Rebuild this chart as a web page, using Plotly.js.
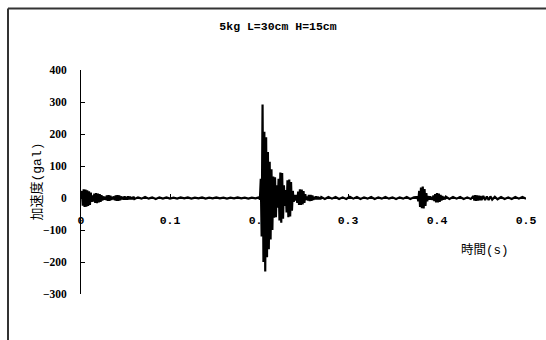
<!DOCTYPE html>
<html>
<head>
<meta charset="utf-8">
<script src="https://cdn.plot.ly/plotly-3.0.1.min.js"></script>
<style>html,body{margin:0;padding:0;background:#fff;}#chart{width:546px;height:340px;}</style>
</head>
<body>
<div id="chart"></div>
<script>
// Chart text
const chartTitle = "5kg L=30cm H=15cm";
const xTitle = "時間(s)";
const yTitle = "加速度(gal)";
const xTickVals = [0, 0.1, 0.2, 0.3, 0.4, 0.5];
const xTickText = ["0", "0.1", "0.2", "0.3", "0.4", "0.5"];
const yTickVals = [-300, -200, -100, 0, 100, 200, 300, 400];

// Time (s) and acceleration (gal)
const timeSec = [
0.000,0.001,0.002,0.003,0.004,0.005,0.006,0.007,0.008,0.009,0.010,0.011,0.012,0.013,0.014,0.015,0.016,0.017,0.018,0.019,
0.020,0.021,0.022,0.023,0.024,0.025,0.026,0.027,0.028,0.029,0.030,0.031,0.032,0.033,0.034,0.035,0.036,0.037,0.038,0.039,
0.040,0.041,0.042,0.043,0.044,0.045,0.046,0.047,0.048,0.049,0.050,0.051,0.052,0.053,0.054,0.055,0.056,0.057,0.058,0.059,0.060,
0.064,0.068,0.072,0.076,0.080,0.084,0.088,0.092,0.096,0.100,0.104,0.108,0.112,0.116,0.120,0.124,0.128,0.132,0.136,0.140,
0.144,0.148,0.152,0.156,0.160,0.164,0.168,0.172,0.176,0.180,0.184,0.188,0.192,0.196,
0.200,0.201,0.202,0.203,0.204,0.205,0.206,0.207,0.208,0.209,0.210,0.211,0.212,0.213,0.214,0.215,0.216,0.217,0.218,0.219,
0.220,0.221,0.222,0.223,0.224,0.225,0.226,0.227,0.228,0.229,0.230,0.231,0.232,0.233,0.234,0.235,0.236,0.237,0.238,0.239,
0.240,0.241,0.242,0.243,0.244,0.245,0.246,0.247,0.248,0.249,0.250,0.251,0.252,0.253,0.254,0.255,0.256,0.257,0.258,0.259,
0.260,0.261,0.262,0.263,0.264,0.265,0.266,0.267,0.268,0.269,0.270,
0.274,0.278,0.282,0.286,0.290,0.294,0.298,0.302,0.306,0.310,0.314,0.318,0.322,0.326,0.330,0.334,0.338,0.342,0.346,0.350,
0.354,0.358,0.362,0.366,0.370,0.374,
0.378,0.379,0.380,0.381,0.382,0.383,0.384,0.385,0.386,0.387,0.388,0.389,0.390,0.391,0.392,0.393,0.394,0.395,0.396,0.397,
0.398,0.399,0.400,0.401,0.402,0.403,0.404,0.405,0.406,0.407,0.408,0.409,0.410,
0.414,0.418,0.422,0.426,0.430,0.434,0.438,0.441,0.442,0.443,0.444,0.445,0.446,0.447,0.448,0.449,0.450,0.452,0.454,0.456,
0.458,0.460,0.462,0.465,0.468,0.472,0.476,0.480,0.484,0.488,0.492,0.496,0.500
];
const accelGal = [
0,22,-24,27,-28,26,-27,24,-25,21,-22,17,-12,8,-11,14,-15,15,-16,14,
-14,12,-12,9,-8,5,-5,4,-6,8,-9,9,-9,7,-6,4,-4,5,-7,8,
-9,9,-9,8,-7,5,-4,4,-5,5,-5,4,-5,5,-4,4,-4,3,-4,4,-3,
2,-2,3,-2,2,-3,2,-2,2,-2,1,-2,2,-1,2,-2,1,-1,2,-2,
1,-1,2,-1,1,-2,1,-1,2,-1,1,-2,1,-1,
2,-5,60,-120,292,-200,207,-230,190,-185,144,-160,113,-130,90,-100,67,-62,65,-60,
40,-30,60,-70,80,-77,78,-65,40,-25,25,-45,55,-60,58,-58,50,-40,22,-12,
10,-8,10,-15,20,-22,27,-22,26,-20,22,-15,12,-6,5,-8,10,-10,10,-9,
8,-6,4,-4,5,-4,4,-4,3,-4,3,
-3,3,-2,3,-3,2,-3,4,-2,3,-3,2,-2,3,-3,2,-2,3,-2,2,
-3,2,-2,3,-3,2,
3,-10,22,-28,33,-32,36,-33,28,-25,15,-10,6,-5,5,-5,4,-6,8,-10,
12,-14,15,-14,14,-12,10,-8,6,-5,4,-4,4,
-3,3,-2,3,-3,2,-3,6,-8,9,-9,8,-8,7,-7,6,-6,6,-6,5,
-6,5,-5,4,-4,3,-3,2,-3,3,-2,3,-2
];

const monoFont = 'Liberation Mono, "Noto Sans CJK JP", monospace';
const serifFont = 'Liberation Serif, "Noto Sans CJK JP", serif';

const trace = {
  x: timeSec,
  y: accelGal,
  type: 'scatter',
  mode: 'lines',
  line: {color: '#000000', width: 2.2},
  hoverinfo: 'skip'
};

const layout = {
  width: 546,
  height: 340,
  margin: {l: 81, r: 20, t: 70, b: 46},
  paper_bgcolor: '#ffffff',
  plot_bgcolor: '#ffffff',
  showlegend: false,
  title: {
    text: chartTitle,
    x: 278 / 546, xanchor: 'center',
    y: (340 - 26) / 340, yanchor: 'middle',
    font: {family: monoFont, size: 11.5, color: '#000', weight: 'bold'}
  },
  xaxis: {
    range: [0, 0.5],
    tickvals: xTickVals,
    ticktext: xTickText,
    anchor: 'free',
    position: 300 / 700,
    showline: true, linecolor: '#000', linewidth: 1,
    ticks: 'inside', ticklen: 4, tickcolor: '#000',
    showgrid: false, zeroline: false,
    ticklabelstandoff: 11,
    tickfont: {family: monoFont, size: 11.5, color: '#000', weight: 'bold'}
  },
  yaxis: {
    range: [-300, 400],
    tickvals: yTickVals,
    showline: true, linecolor: '#000', linewidth: 1,
    ticks: 'inside', ticklen: 4, tickcolor: '#000',
    showgrid: false, zeroline: false,
    ticklabelstandoff: 11,
    tickfont: {family: serifFont, size: 11.5, color: '#000', weight: 'bold'}
  },
  annotations: [
    {
      text: yTitle, xref: 'paper', yref: 'paper',
      x: (36 - 81) / 445, y: (294 - 181.5) / 224,
      xanchor: 'center', yanchor: 'middle', textangle: -90, showarrow: false,
      font: {family: monoFont, size: 13, color: '#000'}
    },
    {
      text: xTitle, xref: 'paper', yref: 'paper',
      x: (485 - 81) / 445, y: (294 - 250) / 224,
      xanchor: 'center', yanchor: 'middle', showarrow: false,
      font: {family: monoFont, size: 12.5, color: '#000'}
    }
  ],
  shapes: [
    {type: 'line', xref: 'paper', yref: 'paper',
     x0: (8 - 81) / 445, x1: (546 - 81) / 445, y0: (294 - 8.5) / 224, y1: (294 - 8.5) / 224,
     line: {color: '#333', width: 2}},
    {type: 'line', xref: 'paper', yref: 'paper',
     x0: (8 - 81) / 445, x1: (8 - 81) / 445, y0: (294 - 8.5) / 224, y1: (294 - 340) / 224,
     line: {color: '#333', width: 2}}
  ]
};

Plotly.newPlot('chart', [trace], layout, {staticPlot: true, displayModeBar: false});
</script>
</body>
</html>
